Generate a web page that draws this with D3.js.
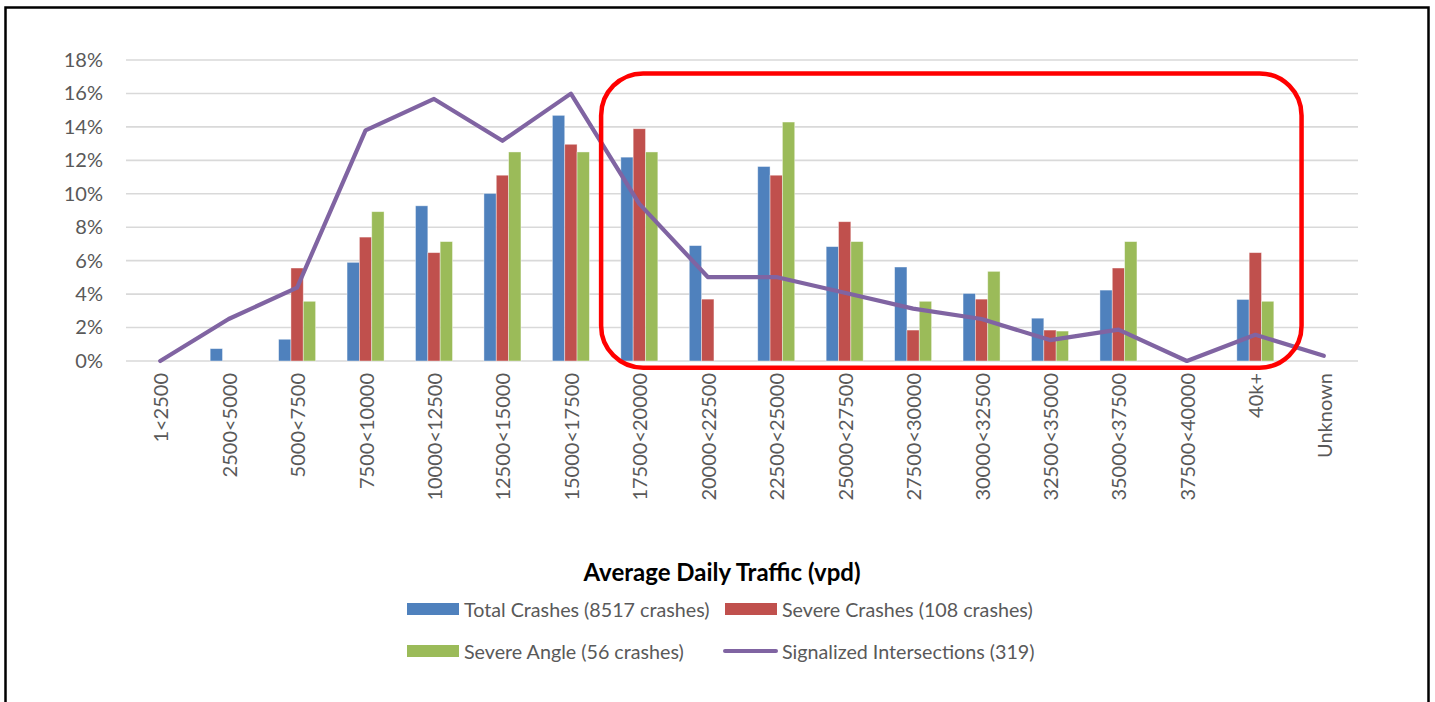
<!DOCTYPE html>
<html>
<head>
<meta charset="utf-8">
<script src="https://cdn.jsdelivr.net/npm/d3@7"></script>
<style>
  body { margin: 0; background: #fff; }
  text { font-family: Lato, "Open Sans", sans-serif; }
</style>
</head>
<body>
<div id="chart"></div>
<script>
// categories (average daily traffic bins)
var categories = ["1<2500", "2500<5000", "5000<7500", "7500<10000", "10000<12500",
  "12500<15000", "15000<17500", "17500<20000", "20000<22500", "22500<25000",
  "25000<27500", "27500<30000", "30000<32500", "32500<35000", "35000<37500",
  "37500<40000", "40k+", "Unknown"];

// percent of each series by bin
var totalCrashes  = [0, 0.74, 1.3, 5.9, 9.28, 10.02, 14.69, 12.19, 6.9, 11.63, 6.84, 5.62, 4.04, 2.56, 4.24, 0, 3.68, 0];
var severeCrashes = [0, 0, 5.56, 7.41, 6.48, 11.11, 12.96, 13.89, 3.7, 11.11, 8.33, 1.85, 3.7, 1.85, 5.56, 0, 6.48, 0];
var severeAngle   = [0, 0, 3.57, 8.93, 7.14, 12.5, 12.5, 12.5, 0, 14.29, 7.14, 3.57, 5.36, 1.79, 7.14, 0, 3.57, 0];
var signalized    = [0, 2.51, 4.39, 13.79, 15.67, 13.17, 15.99, 9.4, 5.02, 5.02, 4.08, 3.13, 2.51, 1.25, 1.88, 0, 1.57, 0.31];

var yTicks = [0, 2, 4, 6, 8, 10, 12, 14, 16, 18];

var barSeries = ["Total Crashes (8517 crashes)", "Severe Crashes (108 crashes)", "Severe Angle (56 crashes)"];
var lineSeries = "Signalized Intersections (319)";

function init(){

  var width = 1435,
      height = 702;

  var svg = d3.select("#chart")
    .append("svg")
    .attr("width", width)
    .attr("height", height);

  // outer frame
  svg.append("rect")
    .attr("x", 5.5)
    .attr("y", 7.5)
    .attr("width", 1423)
    .attr("height", 720)
    .attr("fill", "none")
    .attr("stroke", "#000")
    .attr("stroke-width", 2.5);

  var x = d3.scaleBand()
    .domain(categories)
    .range([126, 1358]);

  var y = d3.scaleLinear()
    .domain([0, 18])
    .range([361, 60]);

  // gridlines
  svg.append("g")
    .selectAll("line")
    .data(yTicks)
    .enter()
    .append("line")
    .attr("x1", 126)
    .attr("x2", 1358)
    .attr("y1", function(d){ return y(d); })
    .attr("y2", function(d){ return y(d); })
    .attr("stroke", "#d9d9d9")
    .attr("stroke-width", 1.6);

  // Y axis labels
  var yAxis = d3.axisLeft(y)
    .tickValues(yTicks)
    .tickSize(0)
    .tickPadding(23)
    .tickFormat(function(d){ return d + "%"; });

  var yg = svg.append("g")
    .attr("transform", "translate(126,0)")
    .call(yAxis);
  yg.select(".domain").remove();
  yg.selectAll("text")
    .attr("fill", "#595959")
    .style("font-size", "20px")
    .style("font-family", "Lato, sans-serif");

  // X axis labels (rotated)
  var xAxis = d3.axisBottom(x).tickSize(0).tickPadding(0);
  var xg = svg.append("g")
    .attr("transform", "translate(0,361)")
    .call(xAxis);
  xg.select(".domain").remove();
  xg.selectAll("text")
    .attr("fill", "#595959")
    .style("font-size", "20px")
    .style("font-family", "Lato, sans-serif")
    .attr("text-anchor", "end")
    .attr("dy", null)
    .attr("dominant-baseline", "central")
    .attr("transform", "translate(0,12) rotate(-90)");

  // bars
  var colors = ["#4f81bd", "#c0504d", "#9bbb59"];
  var seriesData = [totalCrashes, severeCrashes, severeAngle];

  var x1 = d3.scaleBand()
    .domain([0, 1, 2])
    .range([0, 37]);

  var groups = svg.append("g")
    .selectAll("g")
    .data(categories)
    .enter()
    .append("g")
    .attr("transform", function(d){ return "translate(" + (x(d) + x.bandwidth()/2 - 18.5) + ",0)"; });

  groups.selectAll("rect")
    .data(function(d, i){ return seriesData.map(function(s, k){ return {k: k, v: s[i]}; }); })
    .enter()
    .filter(function(d){ return d.v > 0; })
    .append("rect")
    .attr("x", function(d){ return x1(d.k); })
    .attr("width", x1.bandwidth())
    .attr("y", function(d){ return y(d.v); })
    .attr("height", function(d){ return y(0) - y(d.v); })
    .attr("fill", function(d){ return colors[d.k]; })
    .attr("stroke", "rgba(255,255,255,0.5)")
    .attr("stroke-width", 0.8);

  // line
  var line = d3.line()
    .x(function(d, i){ return x(categories[i]) + x.bandwidth()/2; })
    .y(function(d){ return y(d); });

  svg.append("path")
    .datum(signalized)
    .attr("d", line)
    .attr("fill", "none")
    .attr("stroke", "#8064a2")
    .attr("stroke-width", 4.2)
    .attr("stroke-linejoin", "round")
    .attr("stroke-linecap", "round");

  // red highlight box
  var boxLeft = x("17500<20000") - 4,
      boxRight = x("40k+") + x.bandwidth() + 12;
  svg.append("rect")
    .attr("x", boxLeft)
    .attr("y", y(17.2))
    .attr("width", boxRight - boxLeft)
    .attr("height", y(-0.4) - y(17.2))
    .attr("rx", 42)
    .attr("ry", 42)
    .attr("fill", "none")
    .attr("stroke", "#ff0000")
    .attr("stroke-width", 4.5);

  // axis title
  svg.append("text")
    .attr("x", 722)
    .attr("y", 581)
    .attr("text-anchor", "middle")
    .style("font-size", "24px")
    .style("font-weight", "bold")
    .attr("fill", "#000")
    .text("Average Daily Traffic (vpd)");

  // legend
  var legendItems = [
    {name: barSeries[0], color: colors[0], type: "bar", x: 407, y: 609},
    {name: barSeries[1], color: colors[1], type: "bar", x: 725, y: 609},
    {name: barSeries[2], color: colors[2], type: "bar", x: 407, y: 651},
    {name: lineSeries, color: "#8064a2", type: "line", x: 725, y: 651}
  ];

  var lg = svg.append("g")
    .selectAll("g")
    .data(legendItems)
    .enter()
    .append("g")
    .attr("transform", function(d){ return "translate(" + d.x + "," + d.y + ")"; });

  lg.filter(function(d){ return d.type == "bar"; })
    .append("rect")
    .attr("x", 0)
    .attr("y", -6)
    .attr("width", 52)
    .attr("height", 12)
    .attr("fill", function(d){ return d.color; });

  lg.filter(function(d){ return d.type == "line"; })
    .append("line")
    .attr("x1", 0)
    .attr("x2", 51)
    .attr("y1", 0)
    .attr("y2", 0)
    .attr("stroke", function(d){ return d.color; })
    .attr("stroke-width", 4)
    .attr("stroke-linecap", "round");

  lg.append("text")
    .attr("x", 57)
    .attr("y", 0)
    .attr("dominant-baseline", "central")
    .attr("fill", "#595959")
    .style("font-size", "19.7px")
    .text(function(d){ return d.name; });
}
window.onload = init;
</script>
</body>
</html>
